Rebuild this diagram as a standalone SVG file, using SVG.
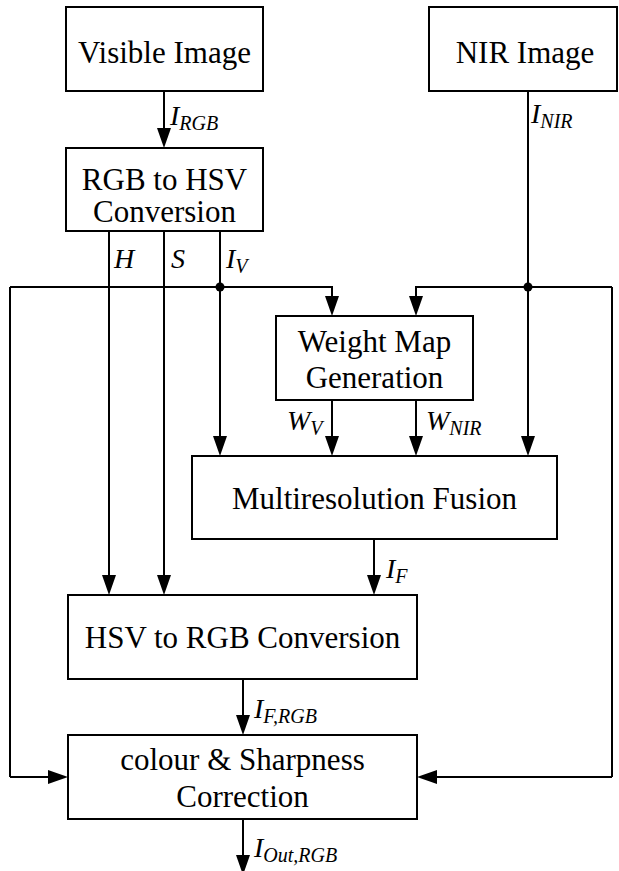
<svg xmlns="http://www.w3.org/2000/svg" width="619" height="871" viewBox="0 0 619 871">
<defs>
<style>
.box{fill:#fff;stroke:#000;stroke-width:2}
.t{font-family:"Liberation Serif","Times New Roman",serif;font-size:31px;text-anchor:middle;fill:#000}
.l{font-family:"Liberation Serif","Times New Roman",serif;font-size:28px;font-style:italic;fill:#000}
.s{font-size:20px}
.w{fill:none;stroke:#000;stroke-width:2}
.a{fill:none;stroke:#000;stroke-width:2;marker-end:url(#ah)}
</style>
<marker id="ah" viewBox="0 0 20 14" refX="16" refY="7" markerWidth="20" markerHeight="14" markerUnits="userSpaceOnUse" orient="auto">
<path d="M0,0 L20,7 L0,14 z" fill="#000"/>
</marker>
</defs>
<rect width="619" height="871" fill="#fff"/>

<g id="connectors">
<path class="a" d="M164,91 V144"/>
<path class="a" d="M528,91 V452"/>
<path class="a" d="M109,231 V591"/>
<path class="a" d="M164,231 V591"/>
<path class="a" d="M220,231 V452"/>
<path class="a" d="M10,287 H332 V312"/>
<path class="w" d="M10,287 V777"/>
<path class="a" d="M10,777 H64"/>
<path class="a" d="M612,287 H416 V312"/>
<path class="w" d="M612,287 V777"/>
<path class="a" d="M612,777 H421"/>
<path class="a" d="M332,400 V452"/>
<path class="a" d="M416,400 V452"/>
<path class="a" d="M374,539 V591"/>
<path class="a" d="M243,679 V731"/>
<path class="a" d="M243,819 V871"/>
<circle cx="220" cy="287" r="4.5" fill="#000"/>
<circle cx="528" cy="287" r="4.5" fill="#000"/>
</g>

<g id="visible">
<rect class="box" x="66" y="7" width="197" height="84"/>
<text class="t" x="164.5" y="63">Visible Image</text>
</g>
<g id="nir">
<rect class="box" x="429" y="7" width="188" height="84"/>
<text class="t" x="525" y="63">NIR Image</text>
</g>
<g id="rgb2hsv">
<rect class="box" x="66" y="148" width="197" height="83"/>
<text class="t" x="164.5" y="190">RGB to HSV</text>
<text class="t" x="164.5" y="222">Conversion</text>
</g>
<g id="weightmap">
<rect class="box" x="276" y="316" width="197" height="84"/>
<text class="t" x="374.5" y="352">Weight Map</text>
<text class="t" x="374.5" y="388">Generation</text>
</g>
<g id="fusion">
<rect class="box" x="192" y="456" width="365" height="83"/>
<text class="t" x="374.5" y="509">Multiresolution Fusion</text>
</g>
<g id="hsv2rgb">
<rect class="box" x="68" y="595" width="349" height="84"/>
<text class="t" x="242.5" y="648">HSV to RGB Conversion</text>
</g>
<g id="correction">
<rect class="box" x="68" y="735" width="349" height="84"/>
<text class="t" x="242.5" y="770">colour &amp; Sharpness</text>
<text class="t" x="242.5" y="807">Correction</text>
</g>

<g id="labels">
<text class="l" x="170" y="125">I<tspan class="s" dy="5">RGB</tspan></text>
<text class="l" x="531" y="123">I<tspan class="s" dy="5">NIR</tspan></text>
<text class="l" x="114" y="268">H</text>
<text class="l" x="171" y="268">S</text>
<text class="l" x="226" y="268">I<tspan class="s" dy="5">V</tspan></text>
<text class="l" x="287" y="430">W<tspan class="s" dy="5">V</tspan></text>
<text class="l" x="426" y="430">W<tspan class="s" dy="5">NIR</tspan></text>
<text class="l" x="386" y="578">I<tspan class="s" dy="5">F</tspan></text>
<text class="l" x="254" y="718">I<tspan class="s" dy="5">F,RGB</tspan></text>
<text class="l" x="254" y="857">I<tspan class="s" dy="5">Out,RGB</tspan></text>
</g>
</svg>
